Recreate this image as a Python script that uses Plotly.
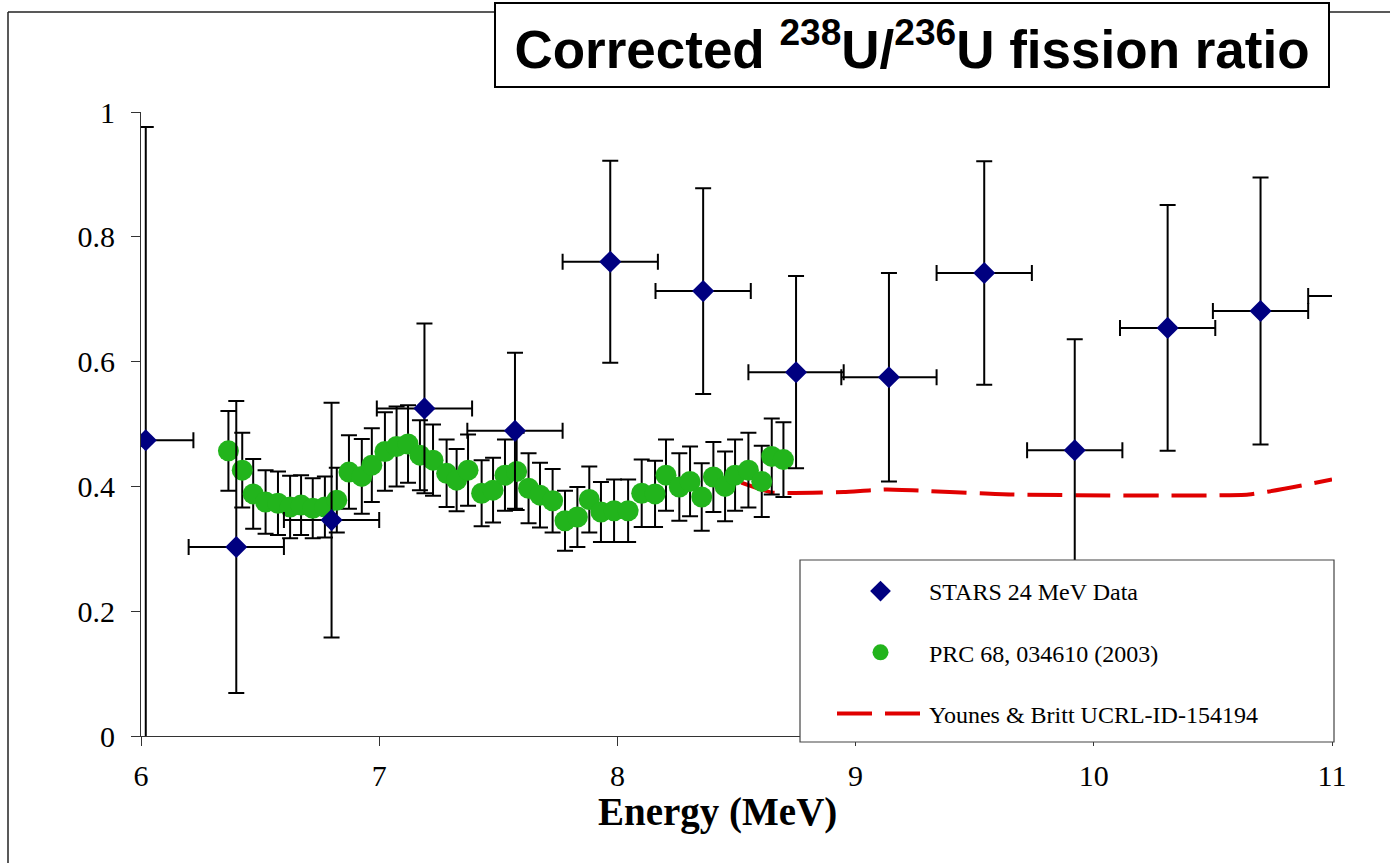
import plotly.graph_objects as go

# ---------------- data ----------------
# STARS 24 MeV data (diamonds)
stars_E = [6.02, 6.40, 6.80, 7.19, 7.57, 7.97, 8.36, 8.75, 9.14, 9.54, 9.92, 10.31, 10.70, 11.10]
stars_R = [0.474, 0.303, 0.346, 0.525, 0.489, 0.760, 0.713, 0.583, 0.575, 0.742, 0.458, 0.654, 0.681, 0.705]
stars_dR = [0.502, 0.234, 0.188, 0.136, 0.125, 0.162, 0.165, 0.154, 0.167, 0.179, 0.178, 0.197, 0.214, 0.200]
stars_dE = [0.20, 0.20, 0.20, 0.20, 0.20, 0.20, 0.20, 0.20, 0.20, 0.20, 0.20, 0.20, 0.20, 0.20]

# PRC 68, 034610 (2003) (circles)
prc_E = [6.367, 6.425, 6.471, 6.523, 6.575, 6.626, 6.672, 6.721, 6.772, 6.822,
         6.873, 6.927, 6.969, 7.024, 7.073, 7.121, 7.171, 7.226, 7.283, 7.325,
         7.373, 7.430, 7.478, 7.528, 7.577, 7.627, 7.675, 7.728, 7.780, 7.832,
         7.882, 7.931, 7.986, 8.045, 8.102, 8.158, 8.204, 8.260, 8.305, 8.354,
         8.403, 8.452, 8.494, 8.550, 8.606, 8.648, 8.697]
prc_R = [0.457, 0.426, 0.388, 0.375, 0.373, 0.367, 0.370, 0.365, 0.367, 0.378,
         0.423, 0.416, 0.434, 0.456, 0.464, 0.468, 0.450, 0.442, 0.421, 0.410,
         0.426, 0.389, 0.394, 0.418, 0.424, 0.397, 0.386, 0.377, 0.345, 0.351,
         0.379, 0.359, 0.361, 0.361, 0.389, 0.388, 0.418, 0.399, 0.408, 0.383,
         0.415, 0.400, 0.418, 0.426, 0.408, 0.448, 0.443]
prc_dR = [0.064, 0.060, 0.056, 0.051, 0.051, 0.050, 0.048, 0.048, 0.049, 0.052,
          0.059, 0.060, 0.059, 0.063, 0.064, 0.062, 0.056, 0.057, 0.054, 0.050,
          0.057, 0.053, 0.052, 0.057, 0.062, 0.056, 0.052, 0.051, 0.048, 0.048,
          0.053, 0.048, 0.050, 0.050, 0.054, 0.053, 0.057, 0.054, 0.056, 0.054,
          0.056, 0.056, 0.057, 0.060, 0.057, 0.061, 0.060]

# Younes & Britt UCRL-ID-154194 (dashed curve)
yb_E = [8.52, 8.65, 8.95, 9.13, 9.65, 10.65, 11.00]
yb_R = [0.406, 0.390, 0.391, 0.395, 0.387, 0.387, 0.411]

x_ticks = [6, 7, 8, 9, 10, 11]
y_ticks = [0, 0.2, 0.4, 0.6, 0.8, 1.0]
y_tick_text = ["0", "0.2", "0.4", "0.6", "0.8", "1"]

SERIF = "Liberation Serif, Times New Roman, serif"
SANS = "Liberation Sans, Arial, sans-serif"

fig = go.Figure()

fig.add_trace(go.Scatter(
    x=yb_E, y=yb_R, mode="lines", name="Younes & Britt UCRL-ID-154194",
    line=dict(color="#E00000", width=4, dash="35px,13px", shape="spline", smoothing=0.4),
    legendgroup="c", legendrank=3,
))

fig.add_trace(go.Scatter(
    x=prc_E, y=prc_R, mode="markers", name="PRC 68, 034610 (2003)",
    marker=dict(symbol="circle", size=21, color="#22B41C", line=dict(width=0)),
    error_y=dict(type="data", array=prc_dR, color="black", thickness=2, width=8),
    legendgroup="b", legendrank=2,
))

fig.add_trace(go.Scatter(
    x=stars_E, y=stars_R, mode="markers", name="STARS 24 MeV Data",
    marker=dict(symbol="diamond", size=17, color="#000080", line=dict(width=0)),
    error_y=dict(type="data", array=stars_dR, color="black", thickness=2, width=8),
    error_x=dict(type="data", array=stars_dE, color="black", thickness=2, width=8),
    legendgroup="a", legendrank=1,
))

L, R, T, B = 141, 58, 112, 127
W, H = 1390, 863
pw = W - L - R
ph = H - T - B

def px_x(p):
    return (p - L) / pw

def px_y(p):
    return (H - B - p) / ph

shapes = [
    # outer frame (top and left edges visible)
    dict(type="line", xref="paper", yref="paper", x0=px_x(8), x1=px_x(1400), y0=px_y(12), y1=px_y(12),
         line=dict(color="#222", width=1.5)),
    dict(type="line", xref="paper", yref="paper", x0=px_x(8), x1=px_x(8), y0=px_y(12), y1=px_y(880),
         line=dict(color="#222", width=1.5)),
    # legend box
    dict(type="rect", xref="paper", yref="paper", layer="above",
         x0=px_x(800), x1=px_x(1334), y0=px_y(742), y1=px_y(560),
         fillcolor="white", line=dict(color="#444", width=1.2)),
]

fig.update_layout(
    width=W, height=H,
    margin=dict(l=L, r=R, t=T, b=B, pad=0),
    paper_bgcolor="white", plot_bgcolor="white",
    shapes=shapes,
    showlegend=True,
    legend=dict(
        x=px_x(832), y=px_y(569), xanchor="left", yanchor="top",
        bgcolor="rgba(0,0,0,0)", borderwidth=0,
        font=dict(family=SERIF, size=24, color="black"),
        traceorder="grouped", tracegroupgap=27, itemwidth=87,
    ),
    xaxis=dict(
        range=[6, 11], tickvals=x_ticks, ticks="outside", ticklen=9, tickwidth=1,
        tickcolor="#333", showline=True, linecolor="#333", linewidth=1,
        showgrid=False, zeroline=False,
        tickfont=dict(family=SERIF, size=30, color="black"),
        ticklabelstandoff=4,
    ),
    yaxis=dict(
        range=[0, 1], tickvals=y_ticks, ticktext=y_tick_text, ticks="outside", ticklen=9,
        tickwidth=1, tickcolor="#333", showline=True, linecolor="#333", linewidth=1,
        showgrid=False, zeroline=False,
        tickfont=dict(family=SERIF, size=30, color="black"),
        ticklabelstandoff=10,
    ),
    annotations=[
        dict(
            text="<b>Corrected <sup>238</sup>U/<sup>236</sup>U fission ratio</b>",
            xref="paper", yref="paper", x=px_x(912), y=px_y(45),
            xanchor="center", yanchor="middle", showarrow=False,
            font=dict(family=SANS, size=53, color="black"),
            bgcolor="white", bordercolor="black", borderwidth=2, borderpad=0,
            width=832, height=82,
        ),
        dict(
            text="<b>Energy (MeV)</b>",
            xref="paper", yref="paper", x=px_x(717), y=px_y(812),
            xanchor="center", yanchor="middle", showarrow=False,
            font=dict(family=SERIF, size=39, color="black"),
        ),
    ],
)

fig.write_html("out.html")
